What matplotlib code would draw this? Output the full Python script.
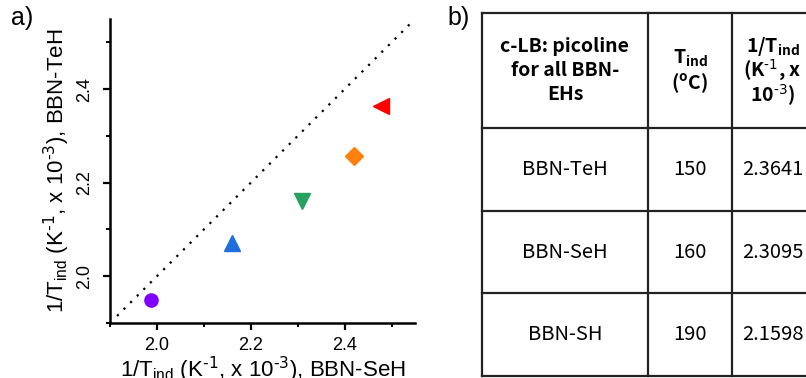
import matplotlib
matplotlib.use("Agg")
import matplotlib.pyplot as plt
from matplotlib.ticker import MultipleLocator

plt.rcParams['font.family'] = ['Liberation Sans', 'DejaVu Sans']
plt.rcParams['mathtext.default'] = 'regular'

# scatter data: 1/T_ind (x 10^-3)
x_seh = [1.987, 2.160, 2.3095, 2.421, 2.477]
y_teh = [1.950, 2.072, 2.1598, 2.257, 2.3641]
markers = ['o', '^', 'v', 'D', '<']
colors = ['#7f00ff', '#1e6fdd', '#28a060', '#ff7f0f', '#ff0000']
sizes = [9.5, 11, 11, 9, 11]
diag = [1.915, 2.54]

# table data
header = [["c-LB: picoline", "for all BBN-", "EHs"],
          [r"T$_{ind}$", r"($^{o}$C)"],
          [r"1/T$_{ind}$", r"(K$^{\text{-1}}$, x", r"10$^{\text{-3}}$)"]]
names = ["BBN-TeH", "BBN-SeH", "BBN-SH"]
t_ind = ["150", "160", "190"]
inv_t = ["2.3641", "2.3095", "2.1598"]

fig = plt.figure(figsize=(8.06, 3.78), dpi=100)

# ---- panel a ----
ax = fig.add_axes([110 / 806, 1 - 323 / 378, 305 / 806, 304 / 378])
ax.plot(diag, diag, ls=(0, (1, 3.2)), color='black', lw=1.6)
for x, y, m, c, s in zip(x_seh, y_teh, markers, colors, sizes):
    ax.plot([x], [y], marker=m, color=c, ms=s, ls='none')
ax.set_xlim(1.9, 2.55)
ax.set_ylim(1.9, 2.55)
ax.xaxis.set_major_locator(MultipleLocator(0.2))
ax.yaxis.set_major_locator(MultipleLocator(0.2))
ax.xaxis.set_minor_locator(MultipleLocator(0.1))
ax.yaxis.set_minor_locator(MultipleLocator(0.1))
ax.xaxis.set_major_formatter(lambda v, p: f"{v:.1f}")
ax.yaxis.set_major_formatter(lambda v, p: f"{v:.1f}")
for side in ['top', 'right']:
    ax.spines[side].set_visible(False)
for side in ['left', 'bottom']:
    ax.spines[side].set_linewidth(1.8)
ax.tick_params(which='major', direction='out', length=5, width=1.6, labelsize=13)
ax.tick_params(axis='x', which='major', pad=5)
ax.tick_params(axis='y', which='major', pad=7)
ax.tick_params(which='minor', direction='out', length=3, width=1.4)
for lbl in ax.get_yticklabels():
    lbl.set_rotation(90)
    lbl.set_va('center')
lab = r"1/T$_{ind}$ (K$^{\text{-1}}$, x 10$^{\text{-3}}$), BBN-"
ax.set_xlabel(lab + "SeH", fontsize=16, labelpad=1)
ax.set_ylabel(lab + "TeH", fontsize=16, labelpad=3)

fig.text(11 / 806, 1 - 18 / 378, "a)", fontsize=18, va='center', ha='left')
fig.text(447 / 806, 1 - 18 / 378, "b)", fontsize=18, va='center', ha='left')

# ---- panel b: table ----
tb = fig.add_axes([0, 0, 1, 1])
tb.set_xlim(0, 806)
tb.set_ylim(378, 0)
tb.axis('off')

col_edges = [482, 648, 732, 813]
row_edges = [13, 128, 211, 293, 376]
lc = '#222222'
for cx in col_edges:
    tb.plot([cx, cx], [row_edges[0], row_edges[-1]], color=lc, lw=1.6, clip_on=False)
for ry in row_edges:
    tb.plot([col_edges[0], col_edges[-1]], [ry, ry], color=lc, lw=1.6, clip_on=False)

cjk = ['Noto Sans CJK KR', 'DejaVu Sans']
col_cx = [(col_edges[i] + col_edges[i + 1]) / 2 for i in range(3)]
hy = (row_edges[0] + row_edges[1]) / 2
line_gap = 24.5
for cx, lines in zip(col_cx, header):
    n = len(lines)
    for k, txt in enumerate(lines):
        ty = hy + (k - (n - 1) / 2) * line_gap
        tb.text(cx, ty, txt, ha='center', va='center', fontsize=14, fontweight='bold',
                family=cjk)
for i, row in enumerate(zip(names, t_ind, inv_t)):
    cy = (row_edges[i + 1] + row_edges[i + 2]) / 2
    for cx, txt in zip(col_cx, row):
        tb.text(cx, cy, txt, ha='center', va='center', fontsize=14.5, family=cjk)

fig.savefig("out.png", dpi=100)
